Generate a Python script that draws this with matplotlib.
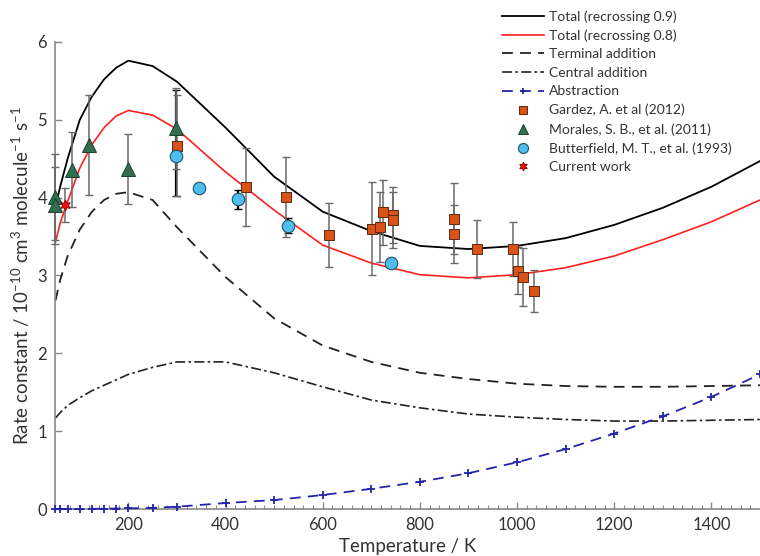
import matplotlib
matplotlib.use("Agg")
import matplotlib.pyplot as plt
from matplotlib.ticker import MultipleLocator

plt.rcParams["font.family"] = ["Lato", "DejaVu Sans"]
plt.rcParams["mathtext.fontset"] = "custom"
plt.rcParams["mathtext.rm"] = "Lato"
plt.rcParams["mathtext.default"] = "regular"

# model curves
temps = [50, 60, 75, 100, 125, 150, 175, 200, 250, 300, 400, 500, 600, 700,
         800, 900, 1000, 1100, 1200, 1300, 1400, 1500]
total_09 = [3.88, 4.15, 4.5, 5.0, 5.3, 5.52, 5.67, 5.76, 5.69, 5.49, 4.9, 4.27,
            3.82, 3.57, 3.38, 3.34, 3.38, 3.48, 3.65, 3.87, 4.14, 4.47]
total_08 = [3.43, 3.68, 3.95, 4.38, 4.68, 4.9, 5.05, 5.12, 5.06, 4.88, 4.33, 3.84,
            3.39, 3.16, 3.01, 2.97, 3.01, 3.1, 3.25, 3.46, 3.69, 3.97]
terminal = [2.68, 2.95, 3.25, 3.59, 3.82, 3.97, 4.05, 4.07, 3.97, 3.62, 2.98, 2.45,
            2.1, 1.89, 1.75, 1.67, 1.61, 1.58, 1.57, 1.57, 1.58, 1.59]
central = [1.17, 1.24, 1.33, 1.43, 1.52, 1.59, 1.66, 1.73, 1.82, 1.89, 1.89, 1.75,
           1.57, 1.40, 1.30, 1.22, 1.18, 1.15, 1.13, 1.13, 1.14, 1.15]
abstraction = [0.0, 0.0, 0.0, 0.0, 0.002, 0.004, 0.006, 0.008, 0.015, 0.03, 0.077,
               0.115, 0.18, 0.26, 0.35, 0.46, 0.60, 0.77, 0.97, 1.19, 1.44, 1.73]

# experiments
gardez_t = [300, 442, 525, 613, 702, 718, 724, 745, 745, 871, 871, 918, 992, 1002, 1013, 1035]
gardez_k = [4.67, 4.14, 4.01, 3.52, 3.60, 3.62, 3.81, 3.78, 3.71, 3.73, 3.53, 3.34, 3.34, 3.06, 2.98, 2.80]
gardez_err = [0.65, 0.5, 0.51, 0.41, 0.6, 0.45, 0.42, 0.36, 0.36, 0.46, 0.37, 0.37, 0.35, 0.3, 0.37, 0.27]

morales_t = [50, 50, 83, 120, 200, 298]
morales_k = [4.01, 3.90, 4.36, 4.68, 4.37, 4.89]
morales_err = [0.55, 0.5, 0.48, 0.64, 0.45, 0.52]

butter_t = [298, 346, 425, 528, 740]
butter_k = [4.53, 4.13, 3.98, 3.64, 3.16]
butter_lo = [0.51, 0.0, 0.12, 0.1, 0.0]
butter_hi = [0.85, 0.0, 0.12, 0.1, 0.0]

current_t = [70]
current_k = [3.91]
current_err = [0.22]

fig = plt.figure(figsize=(7.6, 5.56), dpi=100)
ax = fig.add_axes([0.073, 0.0845, 0.927, 0.84])

ax.plot(temps, total_09, color="black", lw=1.3, label="Total (recrossing 0.9)")
ax.plot(temps, total_08, color="#ff2020", lw=1.2, label="Total (recrossing 0.8)")
ax.plot(temps, terminal, color="#222222", lw=1.3, ls=(0, (6, 4)), label="Terminal addition")
ax.plot(temps, central, color="#222222", lw=1.2, ls=(0, (6, 2, 1.5, 2)), label="Central addition")
ax.plot(temps, abstraction, color="#2424a8", lw=1.3, ls=(0, (6, 4)), marker="+",
        ms=6, mew=1.3, label="Abstraction", clip_on=False, zorder=3)

ecol = "#6a6a6a"
ax.errorbar(butter_t, butter_k, yerr=[butter_lo, butter_hi], fmt="none", ecolor="black",
            elinewidth=1.6, capsize=3, zorder=4)
ax.errorbar(gardez_t, gardez_k, yerr=gardez_err, fmt="none", ecolor=ecol,
            elinewidth=1.1, capsize=3, zorder=4)
ax.errorbar(morales_t, morales_k, yerr=morales_err, fmt="none", ecolor=ecol,
            elinewidth=1.1, capsize=3, zorder=4, clip_on=False)
ax.errorbar(current_t, current_k, yerr=current_err, fmt="none", ecolor=ecol,
            elinewidth=1.1, capsize=3, zorder=4)

ax.plot(gardez_t, gardez_k, ls="none", marker="s", ms=7, mfc="#d95319", mec="#5a2a10",
        mew=0.7, label="Gardez, A. et al (2012)", zorder=5)
ax.plot(morales_t, morales_k, ls="none", marker="^", ms=9.5, mfc="#2f6e50", mec="#1e3e2e",
        mew=0.7, label="Morales, S. B., et al. (2011)", zorder=5, clip_on=False)
ax.plot(butter_t, butter_k, ls="none", marker="o", ms=9, mfc="#4dbeee", mec="#1f4f66",
        mew=0.8, label="Butterfield, M. T., et al. (1993)", zorder=5)
ax.plot(current_t, current_k, ls="none", marker=(6, 1, 0), ms=8, mfc="#ee1111", mec="#8a0000",
        mew=0.6, label="Current work", zorder=6)

ax.set_xlim(50, 1500)
ax.set_ylim(0, 6)
ax.xaxis.set_major_locator(MultipleLocator(200))
ax.xaxis.set_minor_locator(MultipleLocator(20))
ax.yaxis.set_major_locator(MultipleLocator(1))

for side in ["top", "right"]:
    ax.spines[side].set_visible(False)
for side in ["left", "bottom"]:
    ax.spines[side].set_color("#888888")
    ax.spines[side].set_linewidth(1.2)

ax.tick_params(axis="both", which="major", direction="in", length=5, width=1,
               color="#888888", labelsize=12, labelcolor="#333333", pad=6)
ax.tick_params(axis="x", which="minor", direction="in", length=3, width=0.8, color="#888888")

ax.set_xlabel("Temperature / K", fontsize=13.5, color="#333333", labelpad=3)
ax.set_ylabel(r"Rate constant / 10$^{-10}$ cm$^{3}$ molecule$^{-1}$ s$^{-1}$",
              fontsize=13.5, color="#333333", labelpad=4)

leg = ax.legend(loc="upper left", bbox_to_anchor=(0.626, 1.08), frameon=False,
                fontsize=10, handlelength=3.0, handletextpad=0.4, labelspacing=0.47,
                borderaxespad=0, markerscale=0.8)
for t in leg.get_texts():
    t.set_color("#333333")

fig.savefig("out.png", dpi=100)
